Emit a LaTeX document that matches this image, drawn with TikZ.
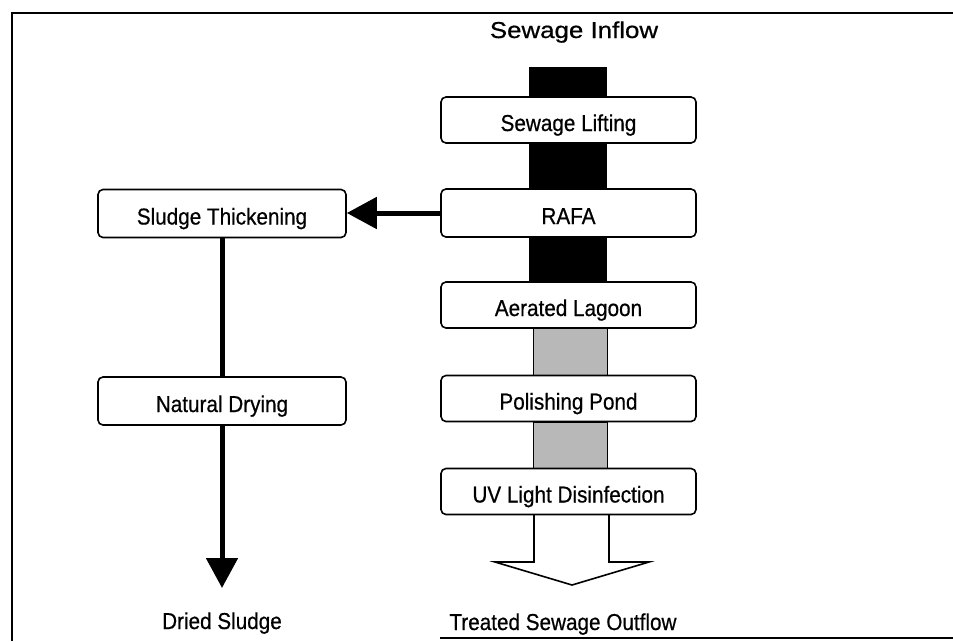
\documentclass[tikz,border=0pt]{standalone}
\usepackage{fontspec}
\setmainfont{Liberation Sans}
\newfontfamily\diagfont[FakeStretch=0.9,FakeBold=0.6]{Liberation Sans}
\usetikzlibrary{arrows.meta,calc}
\tikzset{
  procbox/.style={draw=black, line width=1.6pt, rounded corners=5pt, fill=white,
    minimum width=255pt, minimum height=46pt, inner sep=0pt, align=center,
    text height=22pt, text depth=0pt, font=\diagfont\fontsize{23}{26}\selectfont},
  lbl/.style={inner sep=0pt, anchor=base, font=\diagfont\fontsize{23}{26}\selectfont},
  thickflow/.style={line width=5pt},
  frameline/.style={line width=2.4pt},
  graybar/.style={fill=black!28, draw=black, line width=0.8pt},
}
\begin{document}
\begin{tikzpicture}[x=1pt,y=-1pt]
\useasboundingbox (0,0) rectangle (953,641);
% frame
\draw[frameline] (953,13) -- (12,13) -- (12,641);
\draw[frameline] (440,638) -- (953,638);

% main flow bars
\fill[black] (529,67) rectangle (607,282);
\draw[graybar] (533,328) rectangle (607,375);
\draw[graybar] (533,422) rectangle (607,468);

% outflow arrow
\draw[line width=1.6pt, fill=white, line join=miter]
  (534,514) -- (534,562) -- (495,562) -- (572,585) -- (649,562) -- (609,562) -- (609,514);

% process boxes
\node[procbox] (lift) at (568.5,120) {Sewage Lifting};
\node[procbox, minimum height=48pt] (rafa) at (568.5,213) {RAFA};
\node[procbox] (aer) at (568.5,305) {Aerated Lagoon};
\node[procbox] (pol) at (568.5,398.5) {Polishing Pond};
\node[procbox] (uv) at (568.5,491.5) {UV Light Disinfection};

\node[procbox, minimum width=248pt, minimum height=48pt] (thick) at (222,213.5) {Sludge Thickening};
\node[procbox, minimum width=248pt, minimum height=48pt] (dry) at (222,401) {Natural Drying};

% labels
\node[lbl] (inflow) at (574,38) {\scalebox{1.25}[1]{Sewage Inflow}};
\node[lbl] (outflow) at (563,630) {Treated Sewage Outflow};
\node[lbl] (dried) at (222,629) {Dried Sludge};

% sludge line
\coordinate (tip) at (222,588);
\draw[thickflow, -{Triangle[length=30pt,width=31pt]}] (rafa.west) -- (rafa.west -| thick.east);
\draw[thickflow] (thick.south) -- (dry.north);
\draw[thickflow, -{Triangle[length=30pt,width=31pt]}] (dry.south) -- (tip);
\end{tikzpicture}
\end{document}
